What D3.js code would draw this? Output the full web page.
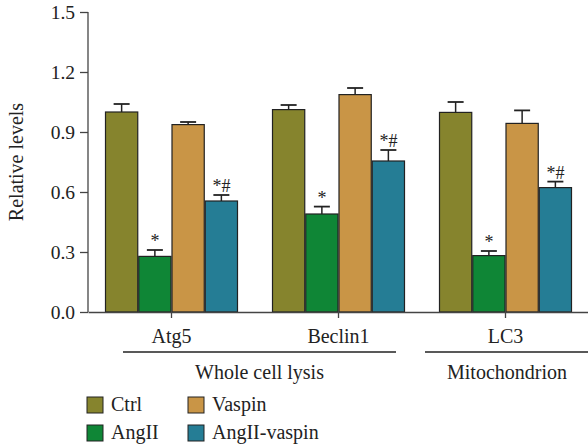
<!DOCTYPE html>
<html><head><meta charset="utf-8">
<script src="https://cdn.jsdelivr.net/npm/d3@7"></script>
<style>body{margin:0;background:#fff}svg{display:block}text{font-family:"Liberation Serif","Times New Roman",serif;fill:#222}</style>
</head><body><svg id="c" width="588" height="446"></svg>
<script>
const categories = ["Atg5","Beclin1","LC3"];
const seriesNames = ["Ctrl","AngII","Vaspin","AngII-vaspin"];
const colors = ["#86842d","#0f8636","#c99546","#257d95"];
const ctrl = [1.00, 1.012, 0.998];
const angII = [0.278, 0.49, 0.282];
const vaspin = [0.937, 1.087, 0.943];
const angIIvaspin = [0.555, 0.755, 0.622];
const ctrlErr = [0.04, 0.023, 0.052];
const angIIErr = [0.032, 0.037, 0.023];
const vaspinErr = [0.013, 0.033, 0.065];
const angIIvaspinErr = [0.03, 0.055, 0.03];
const marks = [["","*","","*#"],["","*","","*#"],["","*","","*#"]];
const yTicks = [0.0,0.3,0.6,0.9,1.2,1.5];
const groups = [{label:"Whole cell lysis", from:0, to:1},{label:"Mitochondrion", from:2, to:2}];

const values = [ctrl, angII, vaspin, angIIvaspin];
const errs = [ctrlErr, angIIErr, vaspinErr, angIIvaspinErr];

const svg = d3.select("#c");
const x0 = d3.scaleBand().domain(categories).range([88, 589]).paddingInner(0).paddingOuter(0);
const x1 = d3.scaleBand().domain(seriesNames).range([17, x0.bandwidth()-17]).padding(0);
const y = d3.scaleLinear().domain([0,1.5]).range([312,12]);

// bars
categories.forEach((c,ci)=>{
  seriesNames.forEach((s,si)=>{
    const v = values[si][ci], e = errs[si][ci];
    const bx = x0(c)+x1(s), bw = x1.bandwidth();
    const cx = bx + bw/2;
    svg.append("line").attr("x1",cx).attr("x2",cx).attr("y1",y(v)).attr("y2",y(v+e)).attr("stroke","#222").attr("stroke-width",1.5);
    svg.append("line").attr("x1",cx-8).attr("x2",cx+8).attr("y1",y(v+e)).attr("y2",y(v+e)).attr("stroke","#222").attr("stroke-width",1.8);
    svg.append("rect").attr("x",bx+0.5).attr("y",y(v)).attr("width",bw-1).attr("height",y(0)-y(v))
      .attr("fill",colors[si]).attr("stroke","#222").attr("stroke-width",1.2);
    const m = marks[ci][si];
    if(m){
      svg.append("text").attr("x",cx).attr("y",y(v+e)-3).attr("text-anchor","middle").style("font-size","18px").text(m);
    }
  });
});

// y axis
const yAxis = d3.axisLeft(y).tickValues(yTicks).tickFormat(d3.format(".1f")).tickSize(8).tickSizeOuter(0);
const ga = svg.append("g").attr("transform","translate(88,0)").call(yAxis);
ga.selectAll("text").style("font-size","19.5px").attr("x",-13).attr("dy","0.34em").style("font-family","Liberation Serif").attr("fill","#222");
ga.selectAll("line,path").attr("stroke","#444").attr("stroke-width",1.3);
ga.select(".domain").attr("d","M0,312V12");

// x axis
const xAxis = d3.axisBottom(x0).tickSize(6).tickSizeOuter(0).tickFormat(d=>d);
const gx = svg.append("g").attr("transform","translate(0,312)").call(xAxis);
gx.selectAll("text").style("font-size","20px").attr("dy",0).attr("y",31).style("font-family","Liberation Serif").attr("fill","#222");
gx.selectAll("line,path").attr("stroke","#444").attr("stroke-width",1.3);

// groups
groups.forEach(g=>{
  const a = x0(categories[g.from]), b = x0(categories[g.to])+x0.bandwidth();
  const lx1 = g.from===0 ? a+35 : a+3;
  const lx2 = g.to===categories.length-1 ? b : b-26;
  svg.append("line").attr("x1",lx1).attr("x2",lx2).attr("y1",352).attr("y2",352).attr("stroke","#222").attr("stroke-width",1.3);
  svg.append("text").attr("x",(lx1+lx2)/2).attr("y",379).attr("text-anchor","middle").style("font-size","20px").text(g.label);
});

// y title
svg.append("text").attr("transform","translate(23,162) rotate(-90)").attr("text-anchor","middle").style("font-size","20px").text("Relative levels");

// legend
const legPos = [[87,405],[87,433],[188,405],[188,433]];
seriesNames.forEach((s,i)=>{
  const [lx,ly] = legPos[i];
  svg.append("rect").attr("x",lx).attr("y",ly-8).attr("width",16).attr("height",16).attr("fill",colors[i]).attr("stroke","#222").attr("stroke-width",1);
  svg.append("text").attr("x",lx+24).attr("y",ly+6).style("font-size","20px").text(s);
});
</script></body></html>
